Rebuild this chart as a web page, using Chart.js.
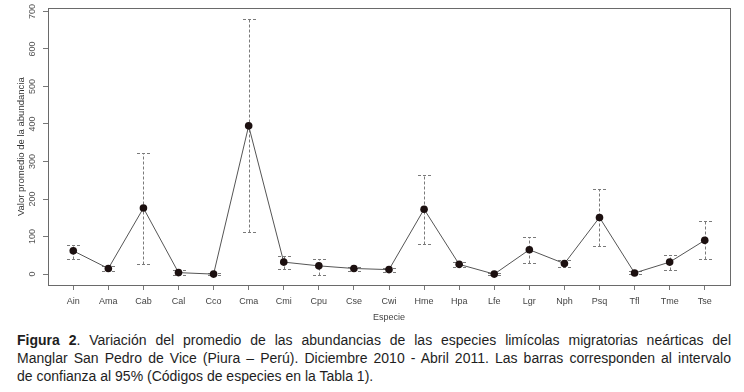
<!DOCTYPE html>
<html>
<head>
<meta charset="utf-8">
<script src="https://cdn.jsdelivr.net/npm/chart.js@4"></script>
<style>
  html, body { margin: 0; padding: 0; background: #fff; }
  #wrap { position: relative; width: 744px; height: 392px; overflow: hidden; }
  #c { position: absolute; left: 0; top: 0; }
  #cap { position: absolute; left: 17px; top: 331px; width: 714px;
         font-family: 'Liberation Sans', Arial, sans-serif; font-size: 14px; line-height: 18px; color: #1e1e1e; }
  .ln { white-space: nowrap; }
</style>
</head>
<body>
<div id="wrap">
  <canvas id="c" width="744" height="325"></canvas>
  <div id="cap">
    <div class="ln j"><b>Figura 2</b>. Variación del promedio de las abundancias de las especies limícolas migratorias neárticas del</div>
    <div class="ln j">Manglar San Pedro de Vice (Piura – Perú). Diciembre 2010 - Abril 2011. Las barras corresponden al intervalo</div>
    <div class="ln">de confianza al 95% (Códigos de especies en la Tabla 1).</div>
  </div>
</div>
<script>
const categories = ['Ain','Ama','Cab','Cal','Cco','Cma','Cmi','Cpu','Cse','Cwi','Hme','Hpa','Lfe','Lgr','Nph','Psq','Tfl','Tme','Tse'];
const means = [62, 15, 176, 4, 0, 395, 32, 22, 15, 12, 173, 26, 0, 65, 28, 151, 3, 32, 90];
const upper = [78, 22, 324, 10, 2, 680, 48, 41, 20, 16, 264, 32, 3, 100, 37, 228, 7, 52, 142];
const lower = [41, 9, 26, -2, -2, 112, 14, -2, 9, 6, 81, 20, -3, 29, 18, 76, 0, 11, 40];
const yTicks = [0, 100, 200, 300, 400, 500, 600, 700];

const FONT = "'Liberation Sans', Arial, sans-serif";

const errorBars = {
  id: 'errorBars',
  beforeDatasetsDraw(chart) {
    const ctx = chart.ctx, xs = chart.scales.x, ys = chart.scales.y;
    ctx.save();
    ctx.strokeStyle = '#7a7a7a';
    ctx.lineWidth = 1;
    ctx.setLineDash([3, 2]);
    const half = 6.5;
    categories.forEach((c, i) => {
      const x = Math.round(xs.getPixelForValue(i + 1)) + 0.5;
      const yu = Math.round(ys.getPixelForValue(upper[i])) + 0.5;
      const yl = Math.round(ys.getPixelForValue(lower[i])) + 0.5;
      ctx.beginPath();
      ctx.moveTo(x, yl); ctx.lineTo(x, yu);
      ctx.moveTo(x - half, yu); ctx.lineTo(x + half, yu);
      ctx.moveTo(x - half, yl); ctx.lineTo(x + half, yl);
      ctx.stroke();
    });
    ctx.restore();
  },
  afterDraw(chart) {
    const ctx = chart.ctx, a = chart.chartArea;
    ctx.save();
    ctx.strokeStyle = '#6a6a6a';
    ctx.lineWidth = 1;
    ctx.strokeRect(Math.round(a.left) + 0.5, Math.round(a.top) + 0.5,
                   Math.round(a.right - a.left), Math.round(a.bottom - a.top));
    ctx.restore();
  }
};

new Chart(document.getElementById('c'), {
  type: 'line',
  data: {
    datasets: [{
      data: means.map((v, i) => ({ x: i + 1, y: v })),
      borderColor: '#555',
      borderWidth: 1,
      pointRadius: 3.8,
      pointBackgroundColor: '#1c1010',
      pointBorderColor: '#1c1010',
      pointBorderWidth: 0,
      tension: 0,
      clip: false
    }]
  },
  options: {
    responsive: false,
    animation: false,
    devicePixelRatio: 1,
    layout: { padding: { left: 0, right: 14, top: 6, bottom: 0 } },
    plugins: { legend: { display: false }, tooltip: { enabled: false } },
    scales: {
      x: {
        type: 'linear',
        min: 0.28, max: 19.72,
        afterBuildTicks: s => { s.ticks = categories.map((c, i) => ({ value: i + 1 })); },
        afterFit: s => { s.height = 40; },
        ticks: {
          callback: v => categories[Math.round(v) - 1],
          autoSkip: false, maxRotation: 0, minRotation: 0,
          padding: 6,
          color: '#444',
          font: { family: FONT, size: 9 }
        },
        grid: { display: true, drawOnChartArea: false, drawTicks: true, tickLength: 5, color: '#777' },
        border: { display: false },
        title: { display: true, text: 'Especie', color: '#444', padding: { top: 0, bottom: 2 },
                 font: { family: FONT, size: 9 } }
      },
      y: {
        type: 'linear',
        min: -29, max: 708,
        afterBuildTicks: s => { s.ticks = yTicks.map(v => ({ value: v })); },
        afterFit: s => { s.width = 48; },
        ticks: {
          minRotation: 90, maxRotation: 90,
          crossAlign: 'center',
          padding: 3,
          color: '#555',
          font: { family: FONT, size: 9 }
        },
        grid: { display: true, drawOnChartArea: false, drawTicks: true, tickLength: 5, color: '#777' },
        border: { display: false },
        title: { display: true, text: 'Valor promedio de la abundancia', color: '#333',
                 padding: { top: 16, bottom: 0 }, font: { family: FONT, size: 9.5 } }
      }
    }
  },
  plugins: [errorBars]
});

function justify() {
  document.querySelectorAll('#cap .ln.j').forEach(el => {
    el.style.wordSpacing = '0px';
    el.style.display = 'inline-block';
    const w = el.getBoundingClientRect().width;
    const spaces = (el.textContent.match(/ /g) || []).length;
    el.style.wordSpacing = ((714 - w) / spaces) + 'px';
    el.style.display = 'block';
  });
}
justify();
if (document.fonts && document.fonts.ready) document.fonts.ready.then(justify);
</script>
</body>
</html>
